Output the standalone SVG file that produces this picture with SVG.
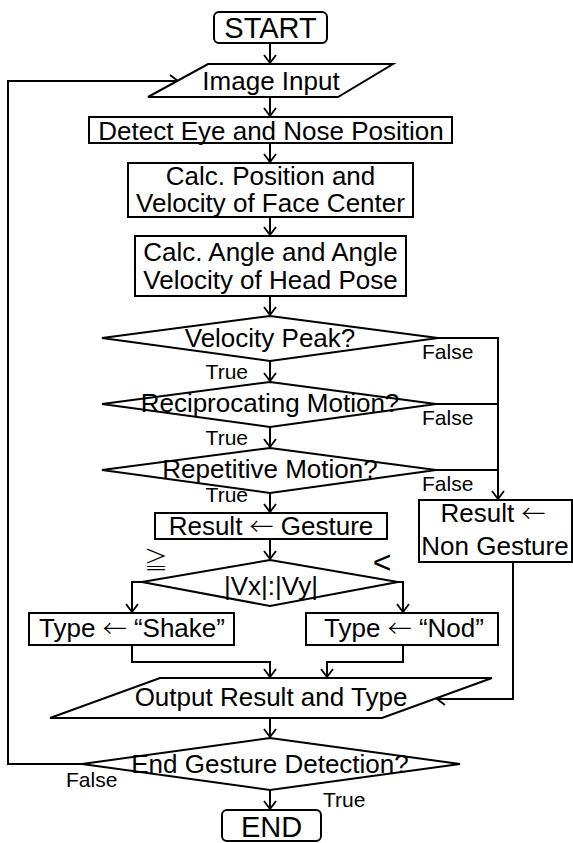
<svg xmlns="http://www.w3.org/2000/svg" width="573" height="843" viewBox="0 0 573 843">
<style>
.s{fill:#fff;stroke:#000;stroke-width:2}
.c{fill:none;stroke:#000;stroke-width:2}
text{font-family:"Liberation Sans",Arial,"Noto Sans CJK JP",sans-serif;fill:#000}
.t{font-size:26px;text-anchor:middle}
.l{font-size:21px}
.ar{font-family:"Noto Sans CJK JP","Noto Sans CJK SC",sans-serif;font-size:24px;font-weight:300}
</style>
<defs>
<marker id="a" markerWidth="14" markerHeight="14" refX="12" refY="7" orient="auto" markerUnits="userSpaceOnUse">
<polyline points="4,1 12,7 4,13" fill="none" stroke="#000" stroke-width="1.8"/>
</marker>
</defs>
<rect width="573" height="843" fill="#fff"/>
<g id="connectors">
<path class="c" d="M270,43V63" marker-end="url(#a)"/>
<path class="c" d="M270,97V116" marker-end="url(#a)"/>
<path class="c" d="M270,143V162" marker-end="url(#a)"/>
<path class="c" d="M270,217V235" marker-end="url(#a)"/>
<path class="c" d="M270,296V315" marker-end="url(#a)"/>
<path class="c" d="M270,361V381" marker-end="url(#a)"/>
<path class="c" d="M270,427V447" marker-end="url(#a)"/>
<path class="c" d="M270,493V512" marker-end="url(#a)"/>
<path class="c" d="M270,539V559" marker-end="url(#a)"/>
<path class="c" d="M142,582H132V612" marker-end="url(#a)"/>
<path class="c" d="M398,582H403V612" marker-end="url(#a)"/>
<path class="c" d="M132,645V662H270V677" marker-end="url(#a)"/>
<path class="c" d="M403,645V662H327V677" marker-end="url(#a)"/>
<path class="c" d="M438,338H498V499" marker-end="url(#a)"/>
<path class="c" d="M436,404H498"/>
<path class="c" d="M436,470H498"/>
<path class="c" d="M513,562V699H437" marker-end="url(#a)"/>
<path class="c" d="M270,718V737" marker-end="url(#a)"/>
<path class="c" d="M270,790V809" marker-end="url(#a)"/>
<path class="c" d="M82,764H8V81H178" marker-end="url(#a)"/>
</g>
<g id="start"><rect class="s" x="214" y="12" width="113" height="31" rx="5"/><text x="270.5" y="38" font-size="29" text-anchor="middle">START</text></g>
<g id="image-input"><polygon class="s" points="208,64 393,64 338,97 148,97"/><text class="t" x="271" y="90">Image Input</text></g>
<g id="detect"><rect class="s" x="89" y="117" width="363" height="26"/><text class="t" x="271" y="140">Detect Eye and Nose Position</text></g>
<g id="calc-position"><rect class="s" x="128" y="163" width="285" height="54"/><text class="t" x="270.5" y="185">Calc. Position and</text><text class="t" x="270.5" y="212">Velocity of Face Center</text></g>
<g id="calc-angle"><rect class="s" x="135" y="236" width="271" height="60"/><text class="t" x="270.5" y="261">Calc. Angle and Angle</text><text class="t" x="270.5" y="289">Velocity of Head Pose</text></g>
<g id="velocity-peak"><polygon class="s" points="270,316 438,338 270,361 102,338"/><text class="t" x="270" y="347">Velocity Peak?</text></g>
<g id="reciprocating"><polygon class="s" points="270,382 436,404 270,427 102,404"/><text class="t" x="270" y="412">Reciprocating Motion?</text></g>
<g id="repetitive"><polygon class="s" points="270,448 436,470 270,493 102,470"/><text class="t" x="270" y="478">Repetitive Motion?</text></g>
<g id="labels">
<text class="l" x="248" y="379" text-anchor="end">True</text>
<text class="l" x="248" y="445" text-anchor="end">True</text>
<text class="l" x="248" y="502" text-anchor="end">True</text>
<text class="l" x="422" y="359">False</text>
<text class="l" x="422" y="425">False</text>
<text class="l" x="422" y="491">False</text>
<text class="ar" x="156" y="569" text-anchor="middle">≧</text>
<text x="382" y="573" font-size="32" font-family="Liberation Serif, serif" text-anchor="middle">&lt;</text>
<text class="l" x="66" y="787">False</text>
<text class="l" x="323" y="807">True</text>
</g>
<g id="result-gesture"><rect class="s" x="155" y="513" width="232" height="26"/><text class="t" x="271" y="535">Result <tspan class="ar">←</tspan> Gesture</text></g>
<g id="result-non-gesture"><rect class="s" x="419" y="500" width="153" height="62"/><text class="t" x="493" y="522">Result <tspan class="ar">←</tspan></text><text class="t" x="495" y="555">Non Gesture</text></g>
<g id="vx-vy"><polygon class="s" points="270,560 398,582 270,606 142,582"/><text class="t" x="271" y="595">|Vx|:|Vy|</text></g>
<g id="type-shake"><rect class="s" x="29" y="613" width="205" height="32"/><text class="t" x="132" y="637">Type <tspan class="ar">←</tspan> “Shake”</text></g>
<g id="type-nod"><rect class="s" x="306" y="613" width="192" height="32"/><text class="t" x="404" y="637">Type <tspan class="ar">←</tspan> “Nod”</text></g>
<g id="output"><polygon class="s" points="160,678 492,678 382,718 50,718"/><text class="t" x="271" y="706">Output Result and Type</text></g>
<g id="end-detection"><polygon class="s" points="270,738 460,764 270,790 82,764"/><text class="t" x="270" y="773">End Gesture Detection?</text></g>
<g id="end"><rect class="s" x="222" y="810" width="99" height="31" rx="5"/><text x="271.5" y="837" font-size="29" text-anchor="middle">END</text></g>
</svg>
